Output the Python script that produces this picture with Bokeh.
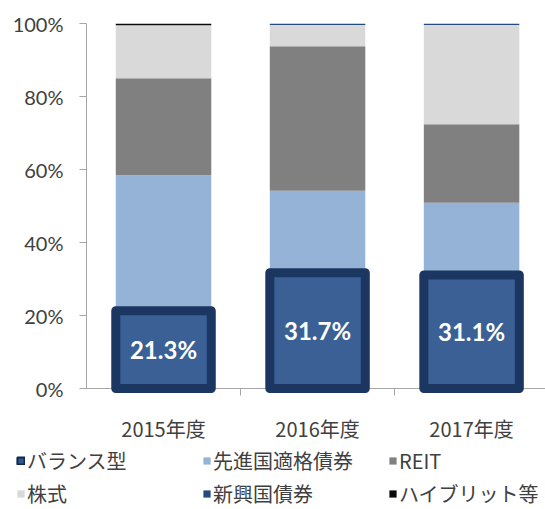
from bokeh.plotting import figure
from bokeh.models import ColumnDataSource, FixedTicker, Legend, LegendItem, Range1d
from bokeh.layouts import column
from bokeh.core.properties import value
from bokeh.embed import file_html
from bokeh.resources import INLINE

categories = ["2015年度", "2016年度", "2017年度"]
balance = [21.3, 31.7, 31.1]
developed = [37.1, 22.5, 19.8]
reit = [26.6, 39.6, 21.5]
equity = [14.5, 5.8, 27.2]
emerging = [0.0, 0.4, 0.4]
hybrid = [0.5, 0.0, 0.0]
balance_labels = ["21.3%", "31.7%", "31.1%"]
y_ticks = [0, 20, 40, 60, 80, 100]
y_tick_labels = ["0%", "20%", "40%", "60%", "80%", "100%"]

BAL_FILL = "#3A6096"
BAL_LINE = "#1B3660"
series = [
    ("バランス型", balance, BAL_FILL),
    ("先進国適格債券", developed, "#95B3D7"),
    ("REIT", reit, "#808080"),
    ("株式", equity, "#D9D9D9"),
    ("新興国債券", emerging, "#254A7C"),
    ("ハイブリット等", hybrid, "#0A0A0A"),
]
legend_rows = [["バランス型", "先進国適格債券", "REIT"], ["株式", "新興国債券", "ハイブリット等"]]

xs = [i + 0.5 for i in range(len(categories))]
bw = 0.62

p = figure(width=545, height=445, x_range=Range1d(0, 2.98), y_range=Range1d(0, 100),
           output_backend="svg", toolbar_location=None,
           min_border_left=86, min_border_top=23, min_border_bottom=49, min_border_right=0)
p.outline_line_color = None
p.xgrid.visible = False
p.ygrid.visible = False
p.frame_align = False

bottoms = [0.0] * len(categories)
for name, vals, color in series:
    tops = [b + v for b, v in zip(bottoms, vals)]
    src = ColumnDataSource(dict(left=[x - bw / 2 for x in xs], right=[x + bw / 2 for x in xs],
                                bottom=list(bottoms), top=tops))
    if name == "バランス型":
        p.quad(left="left", right="right", bottom="bottom", top="top", source=src,
               fill_color=color, line_color=BAL_LINE, line_width=9, line_join="round",
               level="overlay")
        lab_src = ColumnDataSource(dict(x=xs, y=[b + v / 2 for b, v in zip(bottoms, vals)],
                                        text=balance_labels))
    else:
        p.quad(left="left", right="right", bottom="bottom", top="top", source=src,
               fill_color=color, line_color=None)
    bottoms = tops

p.text(x="x", y="y", text="text", source=lab_src, text_color="white",
       text_font=value("Lato"), text_font_style="bold", text_font_size="24px",
       text_align="center", text_baseline="middle", level="overlay")

# axes
p.xaxis.ticker = FixedTicker(ticks=xs, minor_ticks=[1, 2])
p.xaxis.major_label_overrides = {x: c for x, c in zip(xs, categories)}
p.xaxis.major_tick_line_color = None
p.xaxis.major_tick_out = 0
p.xaxis.major_tick_in = 0
p.xaxis.minor_tick_out = 7
p.xaxis.minor_tick_in = 0
p.xaxis.minor_tick_line_color = "#A6A6A6"
p.xaxis.axis_line_color = "#A6A6A6"
p.xaxis.major_label_text_font = "Noto Sans CJK JP"
p.xaxis.major_label_text_font_size = "20px"
p.xaxis.major_label_text_color = "#404040"
p.xaxis.major_label_standoff = 18

p.yaxis.ticker = FixedTicker(ticks=y_ticks)
p.yaxis.major_label_overrides = {t: l for t, l in zip(y_ticks, y_tick_labels)}
p.yaxis.minor_tick_line_color = None
p.yaxis.major_tick_out = 7
p.yaxis.major_tick_in = 0
p.yaxis.major_tick_line_color = "#A6A6A6"
p.yaxis.axis_line_color = "#A6A6A6"
p.yaxis.major_label_text_font = "Lato"
p.yaxis.major_label_text_font_size = "20px"
p.yaxis.major_label_text_color = "#404040"
p.yaxis.major_label_standoff = 16

# legend figure below the chart
lf = figure(width=545, height=64, x_range=Range1d(0, 1), y_range=Range1d(0, 1),
            output_backend="svg", toolbar_location=None,
            x_axis_location=None, y_axis_location=None,
            min_border_left=0, min_border_right=0, min_border_top=0, min_border_bottom=0)
lf.outline_line_color = None
lf.xgrid.visible = False
lf.ygrid.visible = False
lf.frame_align = False

swatch = dict(left=[0], right=[0], bottom=[0], top=[0])
leg_renderers = {}
for name, _, color in series:
    if name == "バランス型":
        r = lf.quad(left="left", right="right", bottom="bottom", top="top",
                    source=ColumnDataSource(swatch), fill_color="#2F5A8E",
                    line_color="#0F2A4E", line_width=2, visible=False)
    else:
        r = lf.quad(left="left", right="right", bottom="bottom", top="top",
                    source=ColumnDataSource(swatch), fill_color=color, line_color=None,
                    visible=False)
    leg_renderers[name] = r

for row, loc in zip(legend_rows, [(16, 34), (16, 1)]):
    items = [LegendItem(label=n, renderers=[leg_renderers[n]]) for n in row]
    lg = Legend(items=items, location=loc, orientation="horizontal",
                label_text_font="Noto Sans CJK JP", label_text_font_size="20px",
                label_text_color="#404040", glyph_width=9, glyph_height=9,
                label_standoff=2, label_width=161, label_height=20, spacing=14,
                inactive_fill_alpha=0, click_policy="none",
                background_fill_alpha=0, border_line_color=None, padding=2, margin=0)
    lf.add_layout(lg, "center")

layout = column(p, lf, spacing=0)
open("out.html", "w").write(file_html(layout, INLINE))
